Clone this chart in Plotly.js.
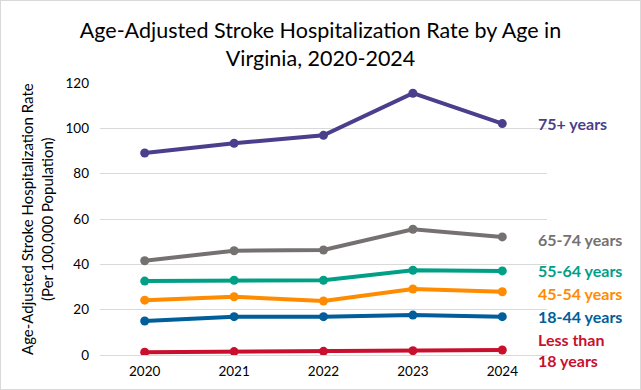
<!DOCTYPE html>
<html>
<head>
<meta charset="utf-8">
<script src="https://cdn.plot.ly/plotly-3.0.1.min.js"></script>
<style>
  html, body { margin: 0; padding: 0; background: #fff; }
  #wrap { position: relative; width: 641px; height: 390px; }
  #chart { width: 641px; height: 390px; }
  #frame { position: absolute; left: 0; top: 0; width: 639px; height: 388px; border: 1px solid #d9d9d9; pointer-events: none; }
</style>
</head>
<body>
<div id="wrap"><div id="chart"></div><div id="frame"></div></div>
<script>
const years = ["2020", "2021", "2022", "2023", "2024"];
const age75plus = [89.1, 93.4, 96.9, 115.5, 102.1];
const age65to74 = [41.6, 46.0, 46.3, 55.5, 52.1];
const age55to64 = [32.6, 33.0, 33.0, 37.4, 37.1];
const age45to54 = [24.2, 25.7, 23.8, 29.1, 27.9];
const age18to44 = [15.0, 16.9, 16.9, 17.6, 16.9];
const ageUnder18 = [1.2, 1.5, 1.6, 1.9, 2.2];
const seriesNames = ["75+ years", "65-74 years", "55-64 years", "45-54 years", "18-44 years", "Less than<br>18 years"];
const seriesColors = ["#4a3f8c", "#767171", "#00a087", "#ff8c00", "#005e9a", "#c8102e"];
const seriesValues = [age75plus, age65to74, age55to64, age45to54, age18to44, ageUnder18];
const labelY = [123, 239, 270, 293, 316, 350];

const font = "Lato, 'Open Sans', sans-serif";
const traces = seriesValues.map((v, i) => ({
  x: years, y: v, type: "scatter", mode: "lines+markers",
  name: seriesNames[i],
  line: { color: seriesColors[i], width: 4 },
  marker: { color: seriesColors[i], size: 9 },
  hoverinfo: "x+y"
}));

const L = 100, R = 547, T = 83, B = 355, H = 390;
const annotations = seriesNames.map((n, i) => ({
  text: "<b>" + n + "</b>", xref: "paper", yref: "paper",
  x: (536 - L) / (R - L), xanchor: "left",
  y: (B - labelY[i]) / (B - T), yanchor: "middle",
  showarrow: false, align: "left",
  font: { family: font, size: 16, color: seriesColors[i] }
}));
annotations.push({
  text: "Age-Adjusted Stroke Hospitalization Rate<br>(Per 100,000 Population)",
  xref: "paper", yref: "paper", x: (37 - L) / (R - L), xanchor: "center",
  y: 0.5, yanchor: "middle", textangle: -90, showarrow: false,
  font: { family: font, size: 15, color: "#000" }
});

const layout = {
  width: 641, height: 390,
  margin: { l: L, r: 641 - R, t: T, b: H - B },
  paper_bgcolor: "#fff", plot_bgcolor: "#fff",
  showlegend: false,
  title: {
    text: "Age-Adjusted Stroke Hospitalization Rate by Age in<br>Virginia, 2020-2024",
    font: { family: font, size: 21.5, color: "#000" },
    x: 0.5, xanchor: "center", xref: "container",
    y: 1 - 38 / 390, yanchor: "middle", yref: "container"
  },
  xaxis: {
    type: "category", range: [-0.5, 4.5],
    showgrid: false, zeroline: false, showline: false,
    ticks: "", ticklabelstandoff: 6,
    tickfont: { family: font, size: 13.5, color: "#000" }
  },
  yaxis: {
    range: [0, 120], dtick: 20, tick0: 0,
    showgrid: true, gridcolor: "#d9d9d9", gridwidth: 1,
    zeroline: true, zerolinecolor: "#d9d9d9", zerolinewidth: 1,
    showline: false, ticks: "", ticklabelstandoff: 10,
    tickfont: { family: font, size: 13.5, color: "#000" }
  },
  annotations: annotations
};

Plotly.newPlot("chart", traces, layout, { displayModeBar: false, staticPlot: true });
</script>
</body>
</html>
